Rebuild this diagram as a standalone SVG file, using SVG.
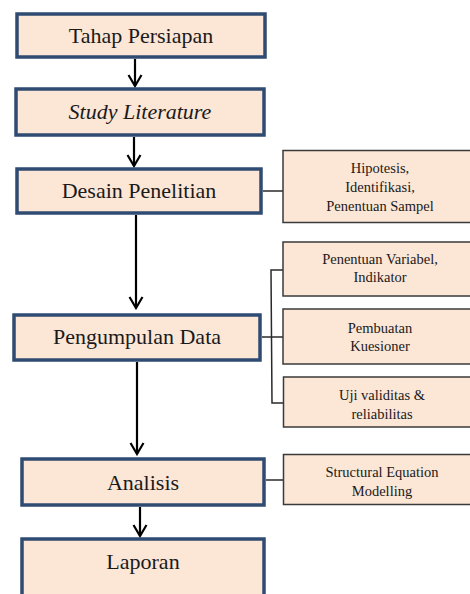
<svg xmlns="http://www.w3.org/2000/svg" width="470" height="594" viewBox="0 0 470 594">
<style>
.main{fill:#FCE6D6;stroke:#2F4B72;stroke-width:3.5}
.side{fill:#FCE6D6;stroke:#3A3A3A;stroke-width:1.5}
.mt{font-family:"Liberation Serif","Times New Roman",serif;font-size:22px;fill:#1a1a1a;text-anchor:middle}
.st{font-family:"Liberation Serif","Times New Roman",serif;font-size:14.5px;fill:#1a1a1a;text-anchor:middle}
.arr{stroke:#000;stroke-width:2.2;fill:none}
.br{stroke:#2a2a2a;stroke-width:1.5;fill:none}
</style>
<defs>
<marker id="ah" markerUnits="userSpaceOnUse" viewBox="0 0 16 16" markerWidth="16" markerHeight="16" refX="14" refY="8" orient="auto">
<path d="M3,1.5 L14,8 L3,14.5" fill="none" stroke="#000" stroke-width="2.2"/>
</marker>
</defs>
<rect width="470" height="594" fill="#fff"/>
<g id="connectors">
<line class="arr" x1="135" y1="59" x2="135" y2="86" marker-end="url(#ah)"/>
<line class="arr" x1="134" y1="137" x2="134" y2="166" marker-end="url(#ah)"/>
<line class="arr" x1="136" y1="215" x2="136" y2="308" marker-end="url(#ah)"/>
<line class="arr" x1="137" y1="362" x2="137" y2="454" marker-end="url(#ah)"/>
<line class="arr" x1="140" y1="507" x2="140" y2="536" marker-end="url(#ah)"/>
<line class="br" x1="263" y1="191" x2="283" y2="191"/>
<polyline class="br" points="283,270 271,270 272,403 284,403"/>
<line class="br" x1="262" y1="337" x2="283" y2="337"/>
<line class="br" x1="266" y1="480" x2="283" y2="480"/>
</g>
<g id="tahap">
<rect class="main" x="17" y="14" width="248" height="43"/>
<text class="mt" x="141" y="43">Tahap Persiapan</text>
</g>
<g id="study">
<rect class="main" x="16" y="89" width="248" height="46"/>
<text class="mt" x="140" y="119" font-style="italic">Study Literature</text>
</g>
<g id="desain">
<rect class="main" x="17" y="169" width="244" height="44"/>
<text class="mt" x="139" y="198">Desain Penelitian</text>
</g>
<g id="pengumpulan">
<rect class="main" x="14" y="315" width="246" height="45"/>
<text class="mt" x="137" y="344">Pengumpulan Data</text>
</g>
<g id="analisis">
<rect class="main" x="22" y="459" width="242" height="46"/>
<text class="mt" x="143" y="490">Analisis</text>
</g>
<g id="laporan">
<rect class="main" x="22" y="539" width="242" height="62"/>
<text class="mt" x="143" y="569">Laporan</text>
</g>
<g id="hipotesis">
<rect class="side" x="283" y="150.5" width="200" height="72"/>
<text class="st" x="380" y="173">Hipotesis,</text>
<text class="st" x="380" y="192">Identifikasi,</text>
<text class="st" x="380" y="211">Penentuan Sampel</text>
</g>
<g id="variabel">
<rect class="side" x="283" y="242" width="200" height="54"/>
<text class="st" x="380" y="264">Penentuan Variabel,</text>
<text class="st" x="380" y="282">Indikator</text>
</g>
<g id="kuesioner">
<rect class="side" x="283" y="309" width="200" height="55"/>
<text class="st" x="380" y="333">Pembuatan</text>
<text class="st" x="380" y="351">Kuesioner</text>
</g>
<g id="uji">
<rect class="side" x="283.5" y="377" width="200" height="50"/>
<text class="st" x="382" y="400">Uji validitas &amp;</text>
<text class="st" x="382" y="419">reliabilitas</text>
</g>
<g id="sem">
<rect class="side" x="283.5" y="454.5" width="200" height="50"/>
<text class="st" x="382" y="477">Structural Equation</text>
<text class="st" x="382" y="496">Modelling</text>
</g>
</svg>
